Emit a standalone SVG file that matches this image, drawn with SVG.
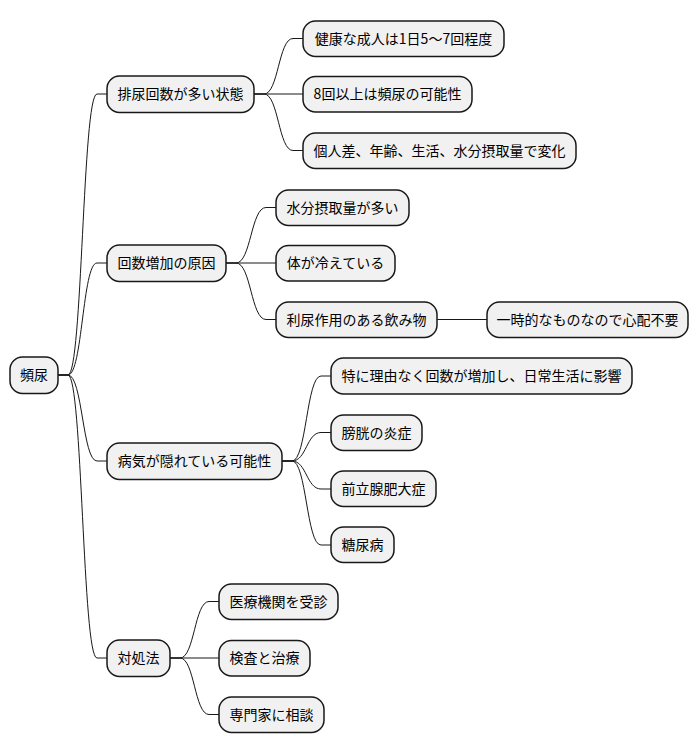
<svg xmlns="http://www.w3.org/2000/svg" width="698" height="752" viewBox="0 0 698 752">
<style>
.n rect{fill:#F1F1F1;stroke:#181818;stroke-width:1.5}
.n text{font-family:"Noto Sans CJK JP","Noto Sans",sans-serif;font-size:14px;fill:#000;text-anchor:middle}
#links path{fill:none;stroke:#181818;stroke-width:1}
</style>
<rect width="698" height="752" fill="#FFFFFF"/>
<g id="links">
<path d="M58,375 L68,375 C82.5,375 82.5,94 97,94 L107,94"/>
<path d="M58,375 L68,375 C82.5,375 82.5,263 97,263 L107,263"/>
<path d="M58,375 L68,375 C82.5,375 82.5,461 97,461 L107,461"/>
<path d="M58,375 L68,375 C82.5,375 82.5,658 97,658 L107,658"/>
<path d="M254,94 L264,94 C278.5,94 278.5,38.5 293,38.5 L303,38.5"/>
<path d="M254,94 L303,94"/>
<path d="M254,94 L264,94 C278.5,94 278.5,150.5 293,150.5 L303,150.5"/>
<path d="M226,263 L236,263 C251,263 251,207.5 266,207.5 L276,207.5"/>
<path d="M226,263 L276,263"/>
<path d="M226,263 L236,263 C251,263 251,319.5 266,319.5 L276,319.5"/>
<path d="M437,319.5 L487,319.5"/>
<path d="M282,461 L292,461 C306.5,461 306.5,376 321,376 L331,376"/>
<path d="M282,461 L292,461 C306.5,461 306.5,432.5 321,432.5 L331,432.5"/>
<path d="M282,461 L292,461 C306.5,461 306.5,489 321,489 L331,489"/>
<path d="M282,461 L292,461 C306.5,461 306.5,545 321,545 L331,545"/>
<path d="M170,658 L180,658 C194.5,658 194.5,601.5 209,601.5 L219,601.5"/>
<path d="M170,658 L219,658"/>
<path d="M170,658 L180,658 C194.5,658 194.5,714.5 209,714.5 L219,714.5"/>
</g>
<g id="n0" class="n"><rect x="10" y="357" width="48" height="36.5" rx="12.5"/><text x="34" y="380">頻尿</text></g>
<g id="n1" class="n"><rect x="107" y="76" width="147" height="36.5" rx="12.5"/><text x="180.5" y="99">排尿回数が多い状態</text></g>
<g id="n1a" class="n"><rect x="303" y="21" width="201" height="35.5" rx="12.5"/><text x="403.5" y="43.5">健康な成人は1日5〜7回程度</text></g>
<g id="n1b" class="n"><rect x="303" y="76.5" width="169" height="35.5" rx="12.5"/><text x="387.5" y="99">8回以上は頻尿の可能性</text></g>
<g id="n1c" class="n"><rect x="303" y="133" width="273" height="35.5" rx="12.5"/><text x="439.5" y="155.5">個人差、年齢、生活、水分摂取量で変化</text></g>
<g id="n2" class="n"><rect x="107" y="245" width="119" height="36.5" rx="12.5"/><text x="166.5" y="268">回数増加の原因</text></g>
<g id="n2a" class="n"><rect x="276" y="190" width="133" height="35.5" rx="12.5"/><text x="342.5" y="212.5">水分摂取量が多い</text></g>
<g id="n2b" class="n"><rect x="276" y="245.5" width="119" height="35.5" rx="12.5"/><text x="335.5" y="268">体が冷えている</text></g>
<g id="n2c" class="n"><rect x="276" y="302" width="161" height="35.5" rx="12.5"/><text x="356.5" y="324.5">利尿作用のある飲み物</text></g>
<g id="n2c1" class="n"><rect x="487" y="302" width="201" height="35.5" rx="12.5"/><text x="587.5" y="324.5">一時的なものなので心配不要</text></g>
<g id="n3" class="n"><rect x="107" y="443" width="175" height="36.5" rx="12.5"/><text x="194.5" y="466">病気が隠れている可能性</text></g>
<g id="n3a" class="n"><rect x="331" y="358" width="301" height="36" rx="12.5"/><text x="481.5" y="381">特に理由なく回数が増加し、日常生活に影響</text></g>
<g id="n3b" class="n"><rect x="331" y="415" width="91" height="35.5" rx="12.5"/><text x="376.5" y="437.5">膀胱の炎症</text></g>
<g id="n3c" class="n"><rect x="331" y="471" width="105" height="35.5" rx="12.5"/><text x="383.5" y="493.5">前立腺肥大症</text></g>
<g id="n3d" class="n"><rect x="331" y="527" width="63" height="35.5" rx="12.5"/><text x="362.5" y="549.5">糖尿病</text></g>
<g id="n4" class="n"><rect x="107" y="640" width="63" height="36.5" rx="12.5"/><text x="138.5" y="663">対処法</text></g>
<g id="n4a" class="n"><rect x="219" y="584" width="119" height="35.5" rx="12.5"/><text x="278.5" y="606.5">医療機関を受診</text></g>
<g id="n4b" class="n"><rect x="219" y="640.5" width="91" height="35.5" rx="12.5"/><text x="264.5" y="663">検査と治療</text></g>
<g id="n4c" class="n"><rect x="219" y="697" width="105" height="35.5" rx="12.5"/><text x="271.5" y="719.5">専門家に相談</text></g>
</svg>
